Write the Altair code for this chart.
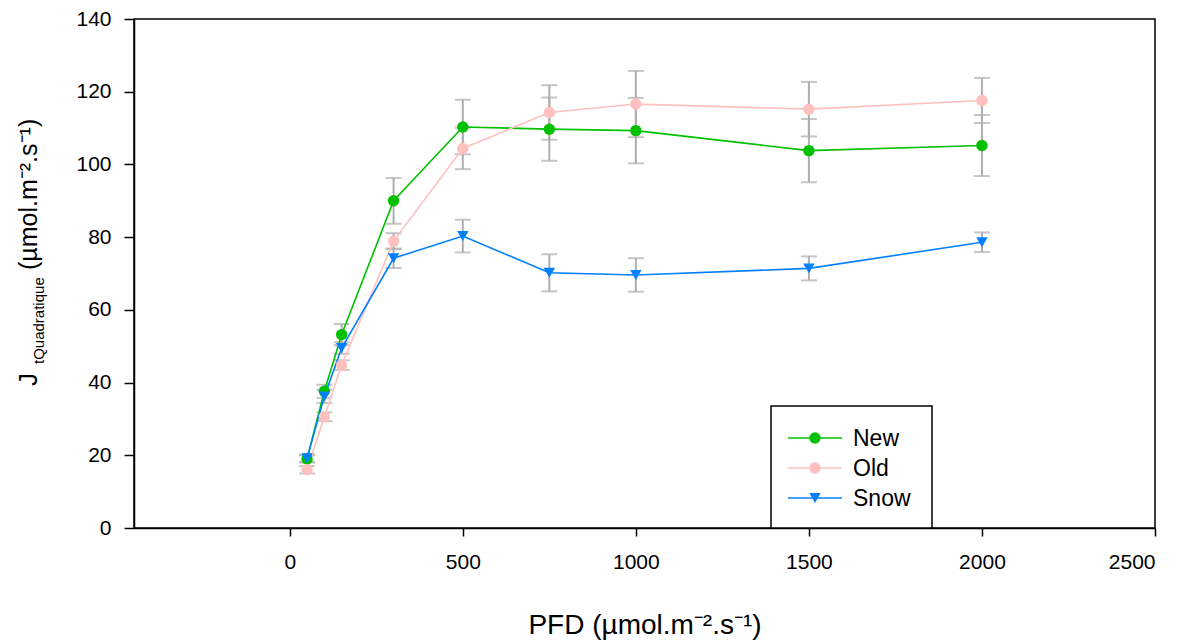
import altair as alt
import pandas as pd

# ---- data ----
pfd = [50, 100, 150, 300, 500, 750, 1000, 1500, 2000]
series_names = ["New", "Old", "Snow"]
new_vals = [19.0, 37.6, 53.2, 90.0, 110.3, 109.7, 109.3, 103.8, 105.2]
new_err = [1.0, 1.8, 2.9, 6.3, 7.5, 8.7, 9.0, 8.7, 8.4]
old_vals = [16.0, 30.6, 44.8, 78.9, 104.4, 114.3, 116.6, 115.2, 117.6]
old_err = [1.0, 1.2, 1.3, 2.2, 5.7, 7.5, 9.1, 7.5, 6.2]
snow_vals = [19.2, 36.2, 49.5, 74.2, 80.3, 70.2, 69.6, 71.4, 78.6]
snow_err = [1.0, 1.8, 1.6, 2.7, 4.5, 5.1, 4.6, 3.3, 2.7]
series_colors = ["#00C000", "#FFC0C0", "#0080FF"]
series_shapes = ["circle", "circle", "triangle-down"]
series_sizes = [130, 130, 200]
x_ticks = [0, 500, 1000, 1500, 2000, 2500]
y_ticks = [0, 20, 40, 60, 80, 100, 120, 140]
x_title = "PFD (µmol.m⁻².s⁻¹)"
y_title_parts = ["J", "tQuadratique", "(µmol.m⁻².s⁻¹)"]

rows = []
for name, vals, errs in zip(series_names,
                            [new_vals, old_vals, snow_vals],
                            [new_err, old_err, snow_err]):
    for x, v, e in zip(pfd, vals, errs):
        rows.append({"series": name, "pfd": x, "val": v, "lo": v - e, "hi": v + e})
df = pd.DataFrame(rows)

GREY = "#AEAEAE"
xs = alt.Scale(domain=[-450, 2500], nice=False, zero=False)
ys = alt.Scale(domain=[0, 140], nice=False, zero=False)
x_axis = alt.Axis(values=x_ticks, format="d", title=x_title, tickSize=8, labelPadding=15,
                  titleY=105, titleBaseline="alphabetic",
                  titleFont="Liberation Sans", titleFontSize=28, titleFontWeight="normal",
                  titleColor="black")
y_axis = alt.Axis(values=y_ticks, format="d", title="", tickSize=10, labelPadding=13)

X = alt.X("pfd:Q", scale=xs, axis=x_axis)
color_scale = alt.Scale(domain=series_names, range=series_colors)
shape_scale = alt.Scale(domain=series_names, range=series_shapes)
size_scale = alt.Scale(domain=series_names, range=series_sizes)

base = alt.Chart(df)

err_rule = base.mark_rule(color=GREY, strokeWidth=2).encode(
    x=X, y=alt.Y("lo:Q", scale=ys, axis=y_axis), y2="hi:Q")
cap_lo = base.mark_tick(color=GREY, orient="horizontal", size=16, thickness=2).encode(
    x=X, y=alt.Y("lo:Q", scale=ys, axis=y_axis))
cap_hi = base.mark_tick(color=GREY, orient="horizontal", size=16, thickness=2).encode(
    x=X, y=alt.Y("hi:Q", scale=ys, axis=y_axis))

lines = base.mark_line(strokeWidth=1.6).encode(
    x=X, y=alt.Y("val:Q", scale=ys, axis=y_axis),
    color=alt.Color("series:N", scale=color_scale, legend=None),
)
points = base.mark_point(filled=True, opacity=1).encode(
    x=X, y=alt.Y("val:Q", scale=ys, axis=y_axis),
    color=alt.Color("series:N", scale=color_scale, legend=None),
    shape=alt.Shape("series:N", scale=shape_scale, legend=None),
    size=alt.Size("series:N", scale=size_scale, legend=None),
)

# plot area: top at page y 19, bottom at page y 528
TOP_SHIFT = 3

# ---- legend drawn as a boxed annotation ----
legend_box = alt.Chart(alt.Data(values=[{"k": 1}])).mark_rect(
    fill="white", stroke="black", strokeWidth=1.5
).encode(x=alt.value(637), x2=alt.value(798),
         y=alt.value(390 - TOP_SHIFT), y2=alt.value(512 - TOP_SHIFT))

legend_layers = [legend_box]
for i, name in enumerate(series_names):
    yy = 422 + 30 * i - TOP_SHIFT
    one = alt.Chart(alt.Data(values=[{"series": name}]))
    legend_layers.append(one.mark_rule(strokeWidth=1.6).encode(
        x=alt.value(654), x2=alt.value(708), y=alt.value(yy),
        color=alt.Color("series:N", scale=color_scale, legend=None)))
    legend_layers.append(one.mark_point(filled=True, opacity=1).encode(
        x=alt.value(681), y=alt.value(yy),
        color=alt.Color("series:N", scale=color_scale, legend=None),
        shape=alt.Shape("series:N", scale=shape_scale, legend=None),
        size=alt.Size("series:N", scale=size_scale, legend=None)))
    legend_layers.append(one.mark_text(
        align="left", baseline="middle", font="Liberation Sans", fontSize=23, color="black"
    ).encode(x=alt.value(719), y=alt.value(yy + 1), text="series:N"))

def ylab(text, size, xpos, ypos):
    return alt.Chart(alt.Data(values=[{"t": text}])).mark_text(
        angle=270, align="left", baseline="alphabetic", font="Liberation Sans",
        fontSize=size, color="black"
    ).encode(text="t:N", x=alt.value(xpos), y=alt.value(ypos - TOP_SHIFT))

ylabel = [ylab(y_title_parts[0], 26, -97, 370),
          ylab(y_title_parts[1], 15, -90, 348),
          ylab(y_title_parts[2], 25, -97.5, 254)]

chart = alt.layer(err_rule, cap_lo, cap_hi, lines, points, *legend_layers, *ylabel).properties(
    width=1021, height=512 - TOP_SHIFT,
    autosize=alt.AutoSizeParams(type="none"),
    padding={"left": 126, "top": 8 + TOP_SHIFT, "right": 20, "bottom": 112},
).configure_view(stroke="black", strokeWidth=1.5).configure_axis(
    grid=False, domainColor="black", domainWidth=1.5, tickColor="black", tickWidth=1.5,
    labelFont="Liberation Sans", labelFontSize=21, labelColor="black",
)

chart.save("out.html", embed_options={"renderer": "svg", "actions": False})
